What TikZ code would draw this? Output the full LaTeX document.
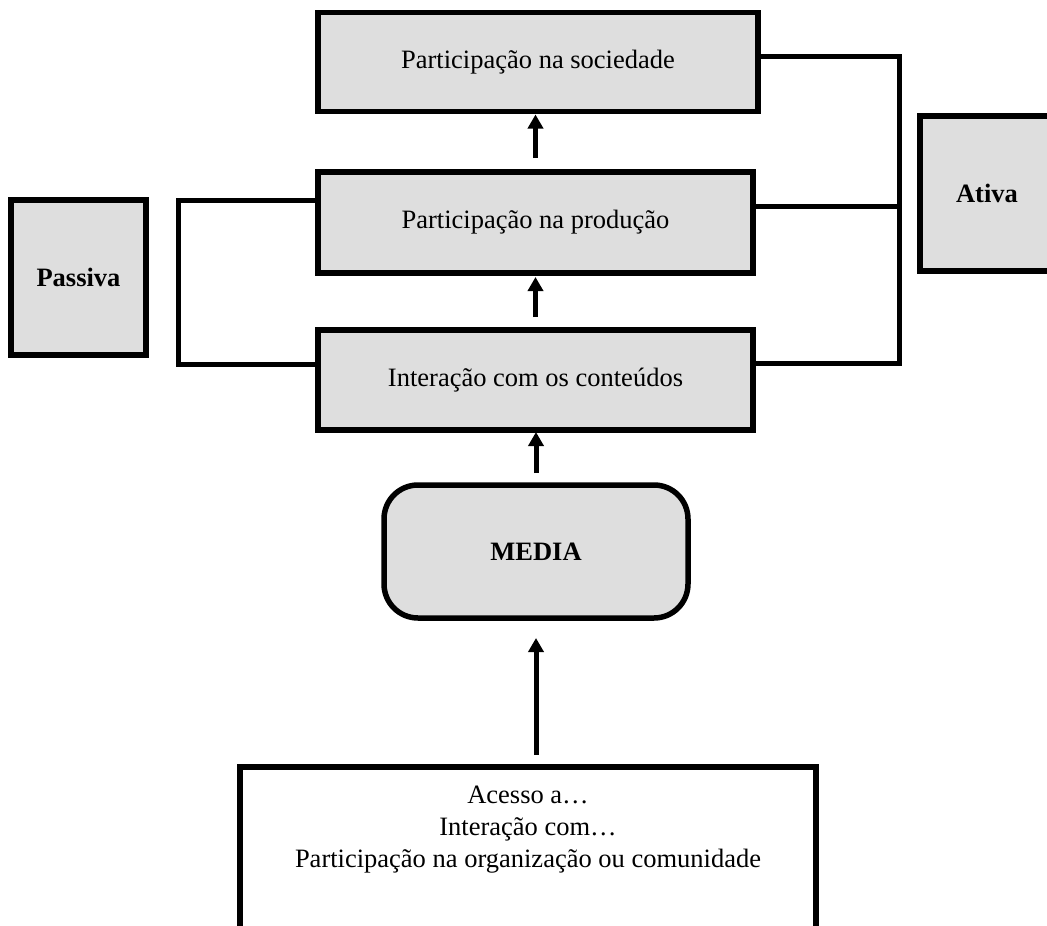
\documentclass[tikz,border=0pt]{standalone}
\usepackage{fontspec}
\setmainfont{Liberation Serif}
\usetikzlibrary{arrows.meta}
\definecolor{boxgray}{RGB}{222,222,222}

\begin{document}
\begin{tikzpicture}[
    x = 1pt,
    y = -1pt,
    every node/.style = {font=\fontsize{26.5}{32}\selectfont},
    stage/.style = {rectangle, draw=black, fill=boxgray, line width=5.5pt,
    inner sep=0pt, outer sep=0pt},
    side/.style = {stage, font=\fontsize{26.5}{32}\selectfont\bfseries},
    medium/.style = {stage, rounded corners=34pt, font=\fontsize{26.5}{32}\selectfont\bfseries},
    link/.style = {line width=5pt},
    arr/.style = {line width=5pt, -{Triangle[width=15pt, length=14pt]}},
]

\useasboundingbox (0,0) rectangle (1047,926);

\node[stage, minimum width=440pt, minimum height=99pt] (soc) at (538,62) {Participação na sociedade};
\node[stage, minimum width=435pt, minimum height=101pt] (prod) at (535.5,222.5) {Participação na produção};
\node[stage, minimum width=435pt, minimum height=100pt] (inter) at (535.5,380) {Interação com os conteúdos};
\node[medium, minimum width=304pt, minimum height=133pt] (media) at (536,551.5) {MEDIA};
\node[side, minimum width=135pt, minimum height=155pt] (passiva) at (78.5,277.5) {Passiva};
\node[side, minimum width=134pt, minimum height=155pt] (ativa) at (987,193.5) {Ativa};
\node[inner sep=0pt, minimum width=576pt, minimum height=240pt] (acesso) at (528,887) {};
\node[anchor=north, align=center, inner sep=0pt] (acessotxt) at ([yshift=-19pt]acesso.north)
    {Acesso a…\\Interação com…\\Participação na organização ou comunidade};

\draw [link, line width=5.5pt] (acesso.south west) -- (acesso.north west)
    -- (acesso.north east) -- (acesso.south east);

\coordinate (mediain) at (media.south |- acesso.north);
\coordinate (interin) at (media.north |- inter.south);
\coordinate (socin) at (prod.north |- soc.south);

\draw [arr] ([yshift=12pt]mediain) -- ([yshift=-20pt]media.south);
\draw [arr] ([yshift=12pt]media.north) -- ([yshift=-2pt]interin);
\draw [arr] ([yshift=13pt]inter.north) -- ([yshift=-4pt]prod.south);
\draw [arr] ([yshift=14pt]prod.north) -- ([yshift=-3pt]socin);

\draw [link] ([yshift=22pt]prod.west) -- ++(-140,0) |- ([yshift=16pt]inter.west);
\draw [link] ([yshift=6pt]soc.east) -- ++(141,0) |- ([yshift=17pt]inter.east);
\draw [link] ([yshift=16.5pt]prod.east) -- ++(146,0);

\end{tikzpicture}
\end{document}
